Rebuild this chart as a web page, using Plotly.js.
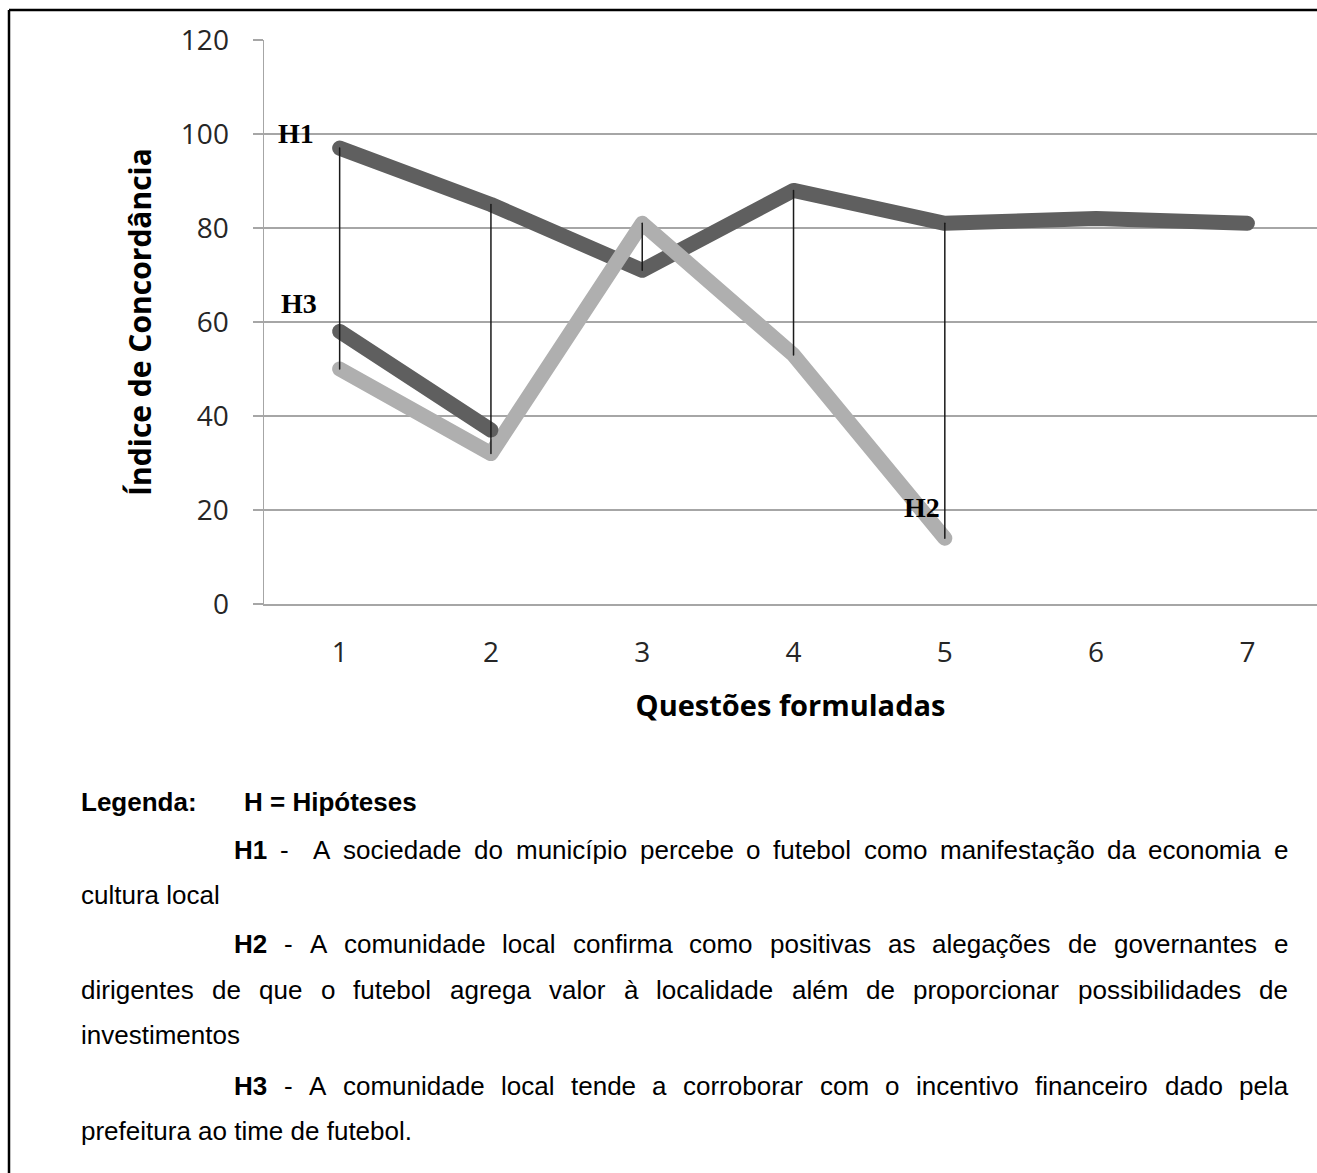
<!DOCTYPE html>
<html><head><meta charset="utf-8">
<script src="https://cdn.plot.ly/plotly-3.0.1.min.js"></script>
<style>
html,body{margin:0;padding:0;background:#fff;}
#chart .scatterlayer .js-line{stroke-linecap:round;stroke-linejoin:round;}
</style></head>
<body><div id="chart" style="width:1317px;height:1173px;"></div>
<script>
// ---- data ----
const questions = [1, 2, 3, 4, 5, 6, 7];
const h1Values = [97, 85, 71, 88, 81, 82, 81];
const h2Values = [50, 32, 81, 53, 14];
const h3Values = [58, 37];
const yTicks = [0, 20, 40, 60, 80, 100, 120];
const xTitleText = 'Questões formuladas';
const yTitleText = 'Índice de Concordância';
const seriesLabels = ['H1', 'H2', 'H3'];

// legend paragraph lines: words (bold flag), justified or not
const legendHeader = [['Legenda:', true], ['H = Hipóteses', true]];
const legendH1 = [['H1', true], ['-', false], ['', false], ['A', false], ['sociedade', false], ['do', false], ['município', false], ['percebe', false], ['o', false], ['futebol', false], ['como', false], ['manifestação', false], ['da', false], ['economia', false], ['e', false]];
const legendH1b = 'cultura local';
const legendH2 = [['H2', true], ['-', false], ['A', false], ['comunidade', false], ['local', false], ['confirma', false], ['como', false], ['positivas', false], ['as', false], ['alegações', false], ['de', false], ['governantes', false], ['e', false]];
const legendH2b = ['dirigentes', 'de', 'que', 'o', 'futebol', 'agrega', 'valor', 'à', 'localidade', 'além', 'de', 'proporcionar', 'possibilidades', 'de'];
const legendH2c = 'investimentos';
const legendH3 = [['H3', true], ['-', false], ['A', false], ['comunidade', false], ['local', false], ['tende', false], ['a', false], ['corroborar', false], ['com', false], ['o', false], ['incentivo', false], ['financeiro', false], ['dado', false], ['pela', false]];
const legendH3b = 'prefeitura ao time de futebol.';

// ---- geometry helpers ----
const W = 1317, H = 1173, ML = 264, MT = 40, MB = 569;
const PW = W - ML, PH = H - MT - MB;
const xp = px => (px - ML) / PW;
const yp = py => (H - MB - py) / PH;

// font selection for the legend text (narrow Arial look)
const cv = document.createElement('canvas').getContext('2d');
function hasFont(name) {
  cv.font = '32px monospace';
  const a = cv.measureText('abcdefghijklmnop WMiil').width;
  cv.font = `32px '${name}', monospace`;
  const b = cv.measureText('abcdefghijklmnop WMiil').width;
  return a !== b;
}
let legFamily, legSize;
if (hasFont('Liberation Sans Narrow')) { legFamily = 'Liberation Sans Narrow'; legSize = 31; }
else { legFamily = 'Liberation Sans'; legSize = 26; }
function measure(t, bold) {
  cv.font = `${bold ? 'bold ' : ''}${legSize}px '${legFamily}'`;
  return cv.measureText(t).width;
}

const annotations = [];
function addText(t, bold, pxX, pxY) {
  if (!t) return;
  annotations.push({
    xref: 'paper', yref: 'paper', x: xp(pxX), y: yp(pxY),
    xanchor: 'left', yanchor: 'middle', showarrow: false, borderpad: 0,
    text: bold ? `<b>${t}</b>` : t,
    font: {family: legFamily, size: legSize, color: '#000'}
  });
}
function justify(words, x0, x1, pxY) {
  const widths = words.map(w => measure(w[0], w[1]));
  const total = widths.reduce((a, b) => a + b, 0);
  const gap = (x1 - x0 - total) / (words.length - 1);
  let x = x0;
  words.forEach((w, i) => { addText(w[0], w[1], x, pxY); x += widths[i] + gap; });
}
const RIGHT = 1287;
addText(legendHeader[0][0], true, 80, 802);
addText(legendHeader[1][0], true, 243, 802);
justify(legendH1, 233, RIGHT, 850);
addText(legendH1b, false, 80, 895);
justify(legendH2, 233, RIGHT, 944);
justify(legendH2b.map(w => [w, false]), 80, RIGHT, 990);
addText(legendH2c, false, 80, 1035);
justify(legendH3, 233, RIGHT, 1086);
addText(legendH3b, false, 80, 1131);

// hypothesis labels in chart
const labelPos = [[0.71, 100.2], [4.85, 20.6], [0.73, 64]];
seriesLabels.forEach((s, i) => {
  annotations.push({
    xref: 'x', yref: 'y', x: labelPos[i][0], y: labelPos[i][1], showarrow: false,
    xanchor: 'center', yanchor: 'middle', text: `<b>${s}</b>`,
    font: {family: 'Liberation Serif', size: 28, color: '#000'}
  });
});

// ---- traces ----
const dark = '#5f5f5f', light = '#afafaf';
const traces = [
  {x: questions, y: h1Values, mode: 'lines', line: {color: dark, width: 15}, name: 'H1'},
  {x: questions.slice(0, h2Values.length), y: h2Values, mode: 'lines', line: {color: light, width: 15}, name: 'H2'},
  {x: questions.slice(0, h3Values.length), y: h3Values, mode: 'lines', line: {color: dark, width: 15}, name: 'H3'}
];
// thin connectors between H1 and H2 at each question where both exist
const cx = [], cy = [];
h2Values.forEach((v, i) => { cx.push(questions[i], questions[i], null); cy.push(h1Values[i], v, null); });
traces.push({x: cx, y: cy, mode: 'lines', line: {color: '#1a1a1a', width: 1.5}, name: 'conn', connectgaps: false});

const gridC = '#a6a6a6';
const layout = {
  width: W, height: H, showlegend: false,
  paper_bgcolor: '#fff', plot_bgcolor: '#fff',
  margin: {l: ML, r: 0, t: MT, b: MB, pad: 0},
  xaxis: {
    range: [0.5, 7.46], tickvals: questions, ticktext: questions.map(String),
    showgrid: false, zeroline: false, showline: true, linecolor: gridC, linewidth: 1.5,
    ticks: '', ticklabelstandoff: 23,
    tickfont: {family: 'Open Sans', size: 28, color: '#262626'},
    title: {text: '<b>' + xTitleText + '</b>', standoff: 26, font: {family: 'Open Sans', size: 29, color: '#000'}},
    automargin: false
  },
  yaxis: {
    range: [0, 120], tickvals: yTicks, showgrid: true, gridcolor: gridC, gridwidth: 1.5,
    zeroline: false, showline: true, linecolor: gridC, linewidth: 1.5,
    ticks: 'outside', ticklen: 10, tickcolor: gridC, tickwidth: 1.5, ticklabelstandoff: 18,
    tickfont: {family: 'Open Sans', size: 28, color: '#262626'},
    title: {text: '<b>' + yTitleText + '</b>', standoff: 20, font: {family: 'Open Sans', size: 30, color: '#000'}},
    automargin: false
  },
  shapes: [
    {type: 'line', xref: 'paper', yref: 'paper', x0: xp(9), x1: xp(1320), y0: yp(10), y1: yp(10), line: {color: '#000', width: 2.5}},
    {type: 'line', xref: 'paper', yref: 'paper', x0: xp(9), x1: xp(9), y0: yp(10), y1: yp(1180), line: {color: '#000', width: 2.5}}
  ],
  annotations: annotations
};
Plotly.newPlot('chart', traces, layout, {displayModeBar: false, staticPlot: true});
</script>
</body></html>
